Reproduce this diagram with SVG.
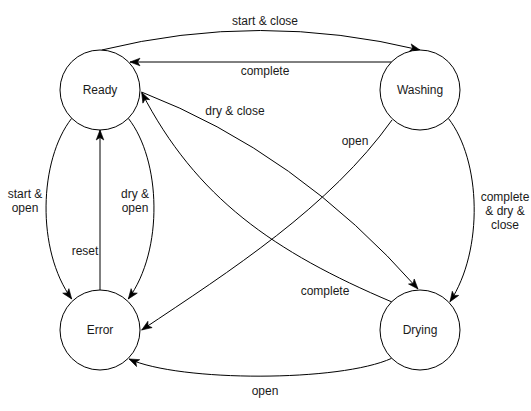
<svg xmlns="http://www.w3.org/2000/svg" width="531" height="411" viewBox="0 0 531 411">
<style>
.edge{fill:none;stroke:#000;stroke-width:1;marker-end:url(#arr)}
.node circle{fill:#fff;stroke:#000;stroke-width:1}
text{font-family:"Liberation Sans",Arial,Helvetica,sans-serif;font-size:12px;fill:#1a1a1a;text-anchor:middle;dominant-baseline:central}
</style>
<defs>
<marker id="arr" markerUnits="userSpaceOnUse" markerWidth="12" markerHeight="10" viewBox="-11 -5 12 10" refX="0" refY="0" orient="auto">
<path d="M-10,-3.8 L0,0 L-10,3.8 L-7.5,0 Z" fill="#000" stroke="#000" stroke-width="0.6" stroke-linejoin="miter"/>
</marker>
</defs>
<rect width="531" height="411" fill="#fff"/>
<g id="connectors">
<path class="edge" d="M101.7,50 Q260,11 420,50"/>
<path class="edge" d="M392,62 L130,62"/>
<path class="edge" d="M141.5,92 Q297,152 418,289"/>
<path class="edge" d="M392,302 C274,252 196,198 141.7,92.5"/>
<path class="edge" d="M392,120 C330,207 230,271 141.7,330"/>
<path class="edge" d="M448.3,118.3 C481,160 484,250 450,301.7"/>
<path class="edge" d="M391.7,358.3 C340,382 180,382 129,359"/>
<path class="edge" d="M71.7,118.3 C39,160 36,250 71.7,299"/>
<path class="edge" d="M128.3,118.3 C161,160 164,250 128.3,299"/>
<path class="edge" d="M100,290 L100,130"/>
<text x="265" y="20.5">start &amp; close</text>
<text x="265" y="71">complete</text>
<text x="235" y="111">dry &amp; close</text>
<text x="355" y="141">open</text>
<text x="505" y="197">complete</text>
<text x="505" y="211">&amp; dry &amp;</text>
<text x="505" y="225">close</text>
<text x="325" y="291">complete</text>
<text x="265" y="391">open</text>
<text x="25" y="193.5">start &amp;</text>
<text x="25" y="207.5">open</text>
<text x="135" y="193.5">dry &amp;</text>
<text x="135" y="207.5">open</text>
<text x="85" y="251">reset</text>
</g>
<g id="ready" class="node"><circle cx="100" cy="90" r="40"/><text x="100" y="90">Ready</text></g>
<g id="washing" class="node"><circle cx="420" cy="90" r="40"/><text x="420" y="90">Washing</text></g>
<g id="error" class="node"><circle cx="100" cy="330" r="40"/><text x="100" y="330">Error</text></g>
<g id="drying" class="node"><circle cx="420" cy="330" r="40"/><text x="420" y="330">Drying</text></g>
</svg>
